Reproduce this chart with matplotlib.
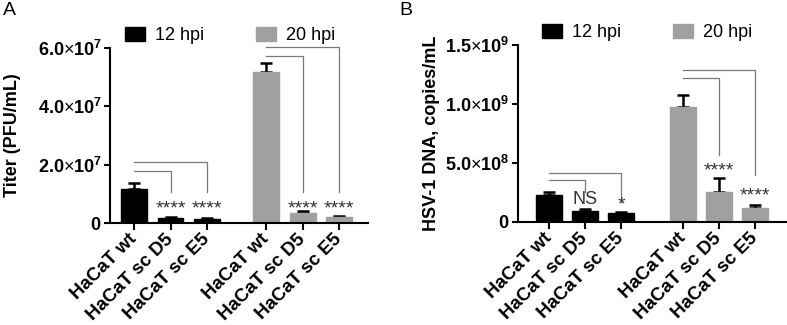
import numpy as np
import matplotlib
matplotlib.use('Agg')
import matplotlib.pyplot as plt
from matplotlib.ticker import FixedLocator

plt.rcParams['font.family'] = ['Liberation Sans', 'DejaVu Sans']
plt.rcParams['mathtext.fontset'] = 'custom'
plt.rcParams['mathtext.rm'] = 'Liberation Sans'
plt.rcParams['mathtext.bf'] = 'Liberation Sans:bold'

# data
cells = ['HaCaT wt', 'HaCaT sc D5', 'HaCaT sc E5']
timepoints = ['12 hpi', '20 hpi']

titer_12 = [1.16e7, 0.18e7, 0.13e7]
titer_12_err = [0.21e7, 0.02e7, 0.03e7]
titer_20 = [5.17e7, 0.33e7, 0.21e7]
titer_20_err = [0.31e7, 0.09e7, 0.03e7]

dna_12 = [2.26e8, 0.93e8, 0.71e8]
dna_12_err = [0.23e8, 0.17e8, 0.14e8]
dna_20 = [9.7e8, 2.5e8, 1.2e8]
dna_20_err = [1.06e8, 1.18e8, 0.24e8]

# significance labels vs wt, per time point
sig_titer_12 = ['****', '****']
sig_titer_20 = ['****', '****']
sig_dna_12 = ['NS', '*']
sig_dna_20 = ['****', '****']

# bracket heights (top, drop end) for D5 and E5 comparisons
br_titer_12 = [(1.79e7, 1.05e7), (2.1e7, 1.05e7)]
br_titer_20 = [(5.74e7, 1.05e7), (6.05e7, 1.05e7)]
br_dna_12 = [(3.54e8, 2.55e8), (4.16e8, 1.7e8)]
br_dna_20 = [(1.217e9, 5.66e8), (1.288e9, 3.96e8)]

# baselines of the significance labels
sig_y_titer_12 = [0.34e7, 0.34e7]
sig_y_titer_20 = [0.34e7, 0.34e7]
sig_y_dna_12 = [1.5e8, 1.08e8]
sig_y_dna_20 = [3.96e8, 1.84e8]

BLACK = '#000000'
GREY = '#a0a0a0'
BR = '#7a7a7a'

fig = plt.figure(figsize=(7.87, 3.25), dpi=100)


def sci_label(v):
    if v == 0:
        return r'$\mathbf{0}$'
    e = int(np.floor(np.log10(v)))
    m = v / 10 ** e
    return r'$\mathbf{%.1f}{\times}\mathbf{10^{%d}}$' % (m, e)


def panel(rect, v12, e12, v20, e20, s12, s20, b12, b20, sy12, sy20,
          ymax, yticks, ylabel, xlim, x20, leg_x):
    ax = fig.add_axes(rect)
    x12 = np.arange(3)
    x2 = x20 + np.arange(3)
    w = 0.71
    ax.bar(x12, v12, w, color=BLACK, edgecolor=BLACK, label=timepoints[0], zorder=2)
    ax.bar(x2, v20, w, color=GREY, edgecolor=GREY, label=timepoints[1], zorder=2)
    ax.errorbar(x12, v12, yerr=[np.zeros(3), e12], fmt='none', ecolor='black',
                elinewidth=1.8, capsize=4.5, capthick=1.8, zorder=1)
    ax.errorbar(x2, v20, yerr=[np.zeros(3), e20], fmt='none', ecolor='black',
                elinewidth=1.8, capsize=4.5, capthick=1.8, zorder=1)

    for xs, brs, sigs, sys in [(x12, b12, s12, sy12), (x2, b20, s20, sy20)]:
        for i in range(2):
            top, drop = brs[i]
            ax.plot([xs[0], xs[i + 1], xs[i + 1]], [top, top, drop],
                    color=BR, lw=0.9, clip_on=False, zorder=3)
            txt = sigs[i]
            fs = 13 if txt == 'NS' else 14
            ax.text(xs[i + 1], sys[i], txt, ha='center', va='baseline',
                    fontsize=fs, color='#333333')

    ax.set_xlim(*xlim)
    ax.set_ylim(0, ymax)
    ax.set_xticks(np.concatenate([x12, x2]))
    ax.set_xticklabels(cells * 2, rotation=45, ha='right', va='center',
                       rotation_mode='anchor', fontsize=13.5, fontweight='bold')
    ax.yaxis.set_major_locator(FixedLocator(yticks))
    ax.set_yticklabels([sci_label(v) for v in yticks], fontsize=13)
    ax.set_ylabel(ylabel, fontsize=13, fontweight='bold')
    for s in ['top', 'right']:
        ax.spines[s].set_visible(False)
    for s in ['left', 'bottom']:
        ax.spines[s].set_linewidth(1.5)
    ax.tick_params(axis='y', width=1.5, length=4, direction='out', pad=2)
    ax.tick_params(axis='x', width=1.5, length=5, direction='out', pad=5)
    ax.legend(loc='lower left', bbox_to_anchor=(leg_x, 0.98), ncol=2,
              frameon=False, fontsize=13, handlelength=1.1, handleheight=0.85,
              handletextpad=0.55, columnspacing=2.9, borderaxespad=0)
    return ax


axA = panel([0.1398, 0.3138, 0.3278, 0.5385], titer_12, titer_12_err, titer_20,
            titer_20_err, sig_titer_12, sig_titer_20, br_titer_12, br_titer_20,
            sig_y_titer_12, sig_y_titer_20, 6e7, [0, 2e7, 4e7, 6e7],
            'Titer (PFU/mL)', (-0.66, 6.42), 3.63, 0.03)
axA.yaxis.set_label_coords(-0.345, 0.5)

axB = panel([0.6582, 0.3178, 0.3405, 0.5437], dna_12, dna_12_err, dna_20,
            dna_20_err, sig_dna_12, sig_dna_20, br_dna_12, br_dna_20,
            sig_y_dna_12, sig_y_dna_20, 1.5e9, [0, 5e8, 1e9, 1.5e9],
            'HSV-1 DNA, copies/mL', (-0.85, 6.55), 3.7, 0.062)
axB.yaxis.set_label_coords(-0.29, 0.5)

fig.text(0.004, 0.995, 'A', fontsize=14, va='top', ha='left')
fig.text(0.508, 0.995, 'B', fontsize=14, va='top', ha='left')

fig.savefig('out.png', dpi=100)
